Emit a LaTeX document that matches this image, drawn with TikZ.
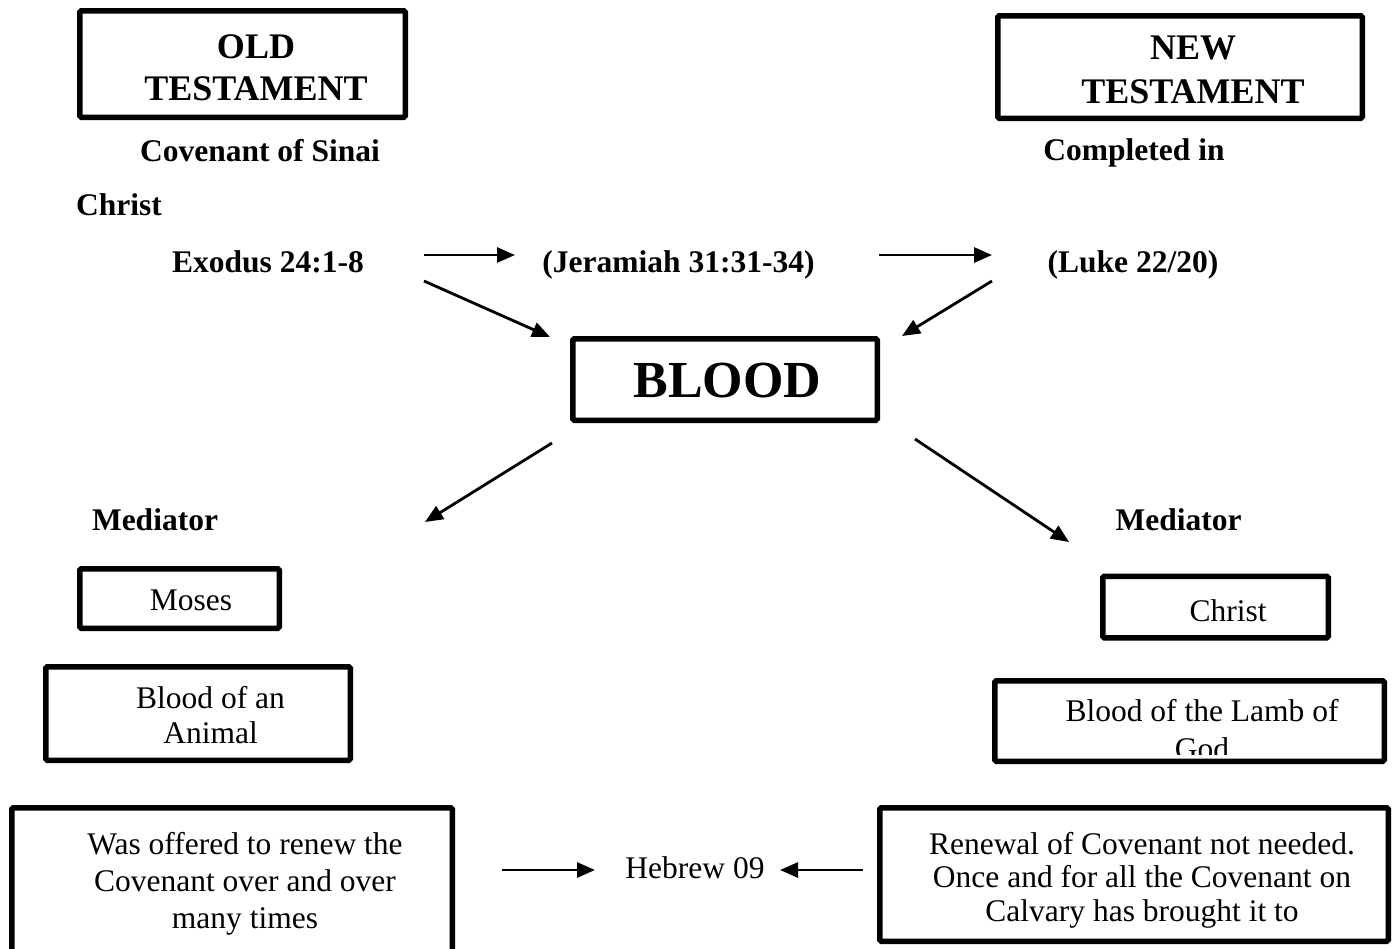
\documentclass[tikz,border=0pt]{standalone}
\usepackage{fontspec}
\setmainfont{Liberation Serif}
\usetikzlibrary{arrows.meta,calc}
\tikzset{
  boxn/.style={draw, line width=5.5pt, rounded corners=1.5pt, inner sep=0pt, outer sep=0pt},
  arr/.style={line width=2.8pt, -{Triangle[length=18pt,width=15pt]}},
  boldlbl/.style={inner sep=0pt, anchor=base, font=\bfseries\fontsize{31.5}{36}\selectfont},
  reglbl/.style={inner sep=0pt, anchor=base, font=\fontsize{31.5}{36}\selectfont},
  mline/.style={inner sep=0pt, anchor=north, align=center},
}
\begin{document}
\begin{tikzpicture}[x=1pt,y=-1pt]
\clip (0,0) rectangle (1394,948);
\fill[white] (0,0) rectangle (1394,948);

% title boxes
\node[boxn, minimum width=325.5pt, minimum height=106.5pt] (oldbox) at (242.5,64) {};
\node[mline, font=\bfseries\fontsize{36}{42}\selectfont] (oldt) at (256,34.5) {OLD\\TESTAMENT};
\node[boxn, minimum width=364.5pt, minimum height=102.5pt] (newbox) at (1180,67) {};
\node[mline, font=\bfseries\fontsize{36}{44}\selectfont] (newt) at (1193,35.3) {NEW\\TESTAMENT};

% labels
\node[boldlbl] (sinai) at (260,161.5) {Covenant of Sinai};
\node[boldlbl] (completed) at (1134,160.5) {Completed in};
\node[boldlbl, anchor=base west] (christl) at (76,215.5) {Christ};
\node[boldlbl] (exodus) at (268,272.5) {Exodus 24:1-8};
\node[boldlbl] (jer) at (678.5,272.5) {(Jeramiah 31:31-34)};
\node[boldlbl] (luke) at (1133,272.5) {(Luke 22/20)};

% blood
\node[boxn, minimum width=304.5pt, minimum height=81.5pt] (blood) at (725,379.5) {};
\node[inner sep=0pt, anchor=base, font=\bfseries\fontsize{52}{60}\selectfont] (bloodt) at (727.5,397.5) {BLOOD};

% mediators
\node[boldlbl] (medl) at (155,530.5) {Mediator};
\node[boldlbl] (medr) at (1178.5,530.5) {Mediator};

\node[boxn, minimum width=199.5pt, minimum height=59.5pt] (mosesbox) at (179.5,598.5) {};
\node[reglbl] (moses) at (191,610.5) {Moses};
\node[boxn, minimum width=225.5pt, minimum height=61.5pt] (christbox) at (1215.5,607) {};
\node[reglbl] (christr) at (1228,621) {Christ};

\node[boxn, minimum width=304.5pt, minimum height=93.5pt] (animalbox) at (198,713.5) {};
\node[mline, font=\fontsize{31.5}{35.5}\selectfont] (animal) at (210.5,685.9) {Blood of an\\Animal};

\node[boxn, minimum width=389.5pt, minimum height=80.5pt] (lambbox) at (1189.5,721) {};
\begin{scope}
\clip ($(lambbox.south west)+(6,-6.5)$) rectangle ($(lambbox.north east)+(-6,6.5)$);
\node[mline, font=\fontsize{31.5}{36}\selectfont] (lamb) at (1202,699.5) {Blood of the Lamb of\\[1.5pt]God};
\end{scope}

% bottom row
\node[boxn, minimum width=440.5pt, minimum height=169.5pt] (leftbot) at (232,892.5) {};
\node[mline, font=\fontsize{31.5}{37}\selectfont] (leftbott) at (245,831.9) {Was offered to renew the\\Covenant over and over\\many times};
\node[boxn, minimum width=508.5pt, minimum height=133.5pt] (rightbot) at (1134,874.5) {};
\node[mline, font=\fontsize{31.5}{33.5}\selectfont] (rightbott) at (1142,832) {Renewal of Covenant not needed.\\Once and for all the Covenant on\\Calvary has brought it to};
\node[reglbl] (heb) at (695,878.5) {Hebrew 09};

% arrows
\draw[arr] ($(exodus.base)+(156,-17.5)$) -- ($(jer.base)+(-163.5,-17.5)$);
\draw[arr] ($(jer.base)+(200.5,-17.5)$) -- ($(luke.base)+(-141,-17.5)$);
\draw[arr] ($(exodus.base)+(156,8.5)$) -- ($(blood.center)+(-175,-42.5)$);
\draw[arr] ($(luke.base)+(-141,8.5)$) -- ($(blood.center)+(177,-43.5)$);
\draw[arr] ($(blood.center)+(-173,63.5)$) -- ($(medl.base)+(270,-8.5)$);
\draw[arr] ($(blood.center)+(190,59.5)$) -- ($(medr.base)+(-109.5,11.5)$);
\draw[arr] ($(leftbot.center)+(270,-22.5)$) -- ($(heb.base)+(-100,-8.5)$);
\draw[arr] ($(rightbot.center)+(-271,-4.5)$) -- ($(heb.base)+(85,-8.5)$);
\end{tikzpicture}
\end{document}
